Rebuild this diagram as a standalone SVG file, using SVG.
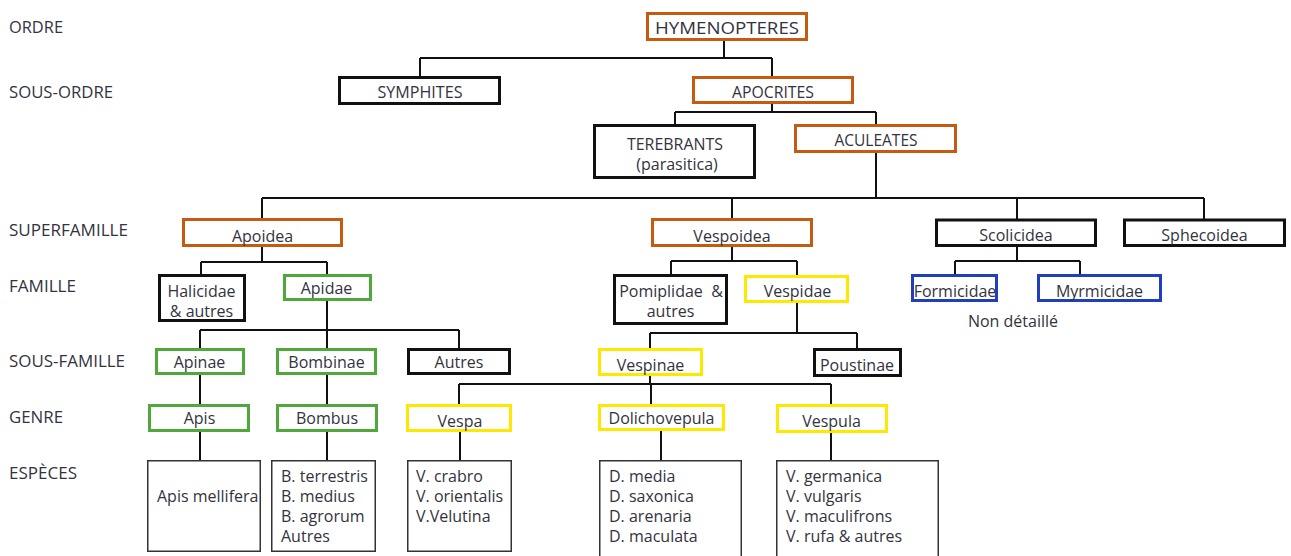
<svg xmlns="http://www.w3.org/2000/svg" width="1291" height="556" viewBox="0 0 1291 556">
<style>
text{font-family:"Open Sans","Liberation Sans",sans-serif;font-size:16px;fill:#333340}
.c{text-anchor:middle}
.box{fill:#fff;stroke-width:3}
.k{stroke:#111}
.o{stroke:#c55a11}
.g{stroke:#4ea83a}
.y{stroke:#ffe800}
.b{stroke:#1f3fbf}
.sp{fill:#fff;stroke:#333;stroke-width:1.5}
.conn{fill:none;stroke:#111;stroke-width:2}
</style>
<rect width="1291" height="556" fill="#fff"/>
<g id="level-labels">
<text x="9" y="33" textLength="54" lengthAdjust="spacingAndGlyphs">ORDRE</text>
<text x="9" y="98" textLength="104" lengthAdjust="spacingAndGlyphs">SOUS-ORDRE</text>
<text x="9" y="236" textLength="119" lengthAdjust="spacingAndGlyphs">SUPERFAMILLE</text>
<text x="9" y="292" textLength="67" lengthAdjust="spacingAndGlyphs">FAMILLE</text>
<text x="9" y="367" textLength="116" lengthAdjust="spacingAndGlyphs">SOUS-FAMILLE</text>
<text x="9" y="423" textLength="54" lengthAdjust="spacingAndGlyphs">GENRE</text>
<text x="9" y="479" textLength="68" lengthAdjust="spacingAndGlyphs">ESPÈCES</text>
</g>
<g id="connectors" class="conn">
<path d="M724 41V58M420 58H772M420 58V77M772 58V77"/>
<path d="M772 104V112M675 112H876M675 112V125M876 112V125"/>
<path d="M876 152V198M262 198H1204M262 198V219M732 198V219M1017 198V220M1204 198V220"/>
<path d="M262 247V262M201 262H327M201 262V275M327 262V275"/>
<path d="M327 301V330M200 330H459M200 330V349M327 330V349M459 330V349"/>
<path d="M200 375V405M200 432V460M327 375V405M327 432V460"/>
<path d="M732 247V261M671 261H797M671 261V275M797 261V276"/>
<path d="M797 303V333M650 333H857M650 333V349M857 333V349"/>
<path d="M650 376V384M459 384H831M459 384V405M651 384V405M831 384V405"/>
<path d="M460 432V460M661 430V460M831 433V460"/>
<path d="M1017 247V261M955 261H1080M955 261V275M1080 261V275"/>
</g>
<g id="hymenopteres"><rect class="box o" x="647.5" y="13.5" width="159" height="26"/><text class="c" x="727" y="34" textLength="144" lengthAdjust="spacingAndGlyphs">HYMENOPTERES</text></g>
<g id="symphites"><rect class="box k" x="339.5" y="77.5" width="160" height="26"/><text class="c" x="420" y="98" textLength="85" lengthAdjust="spacingAndGlyphs">SYMPHITES</text></g>
<g id="apocrites"><rect class="box o" x="693.5" y="77.5" width="159" height="25"/><text class="c" x="773" y="98" textLength="82" lengthAdjust="spacingAndGlyphs">APOCRITES</text></g>
<g id="terebrants"><rect class="box k" x="594.5" y="125.5" width="160" height="52"/><text class="c" x="675" y="150" textLength="96" lengthAdjust="spacingAndGlyphs">TEREBRANTS</text><text class="c" x="677" y="170">(parasitica)</text></g>
<g id="aculeates"><rect class="box o" x="795.5" y="125.5" width="160" height="26"/><text class="c" x="876" y="146" textLength="83" lengthAdjust="spacingAndGlyphs">ACULEATES</text></g>
<g id="apoidea"><rect class="box o" x="183.5" y="219.5" width="158" height="26"/><text class="c" x="262.5" y="242">Apoidea</text></g>
<g id="vespoidea"><rect class="box o" x="652.5" y="219.5" width="159" height="26"/><text class="c" x="732" y="242">Vespoidea</text></g>
<g id="scolicidea"><rect class="box k" x="936.5" y="220" width="159" height="25.5"/><text class="c" x="1016" y="241">Scolicidea</text></g>
<g id="sphecoidea"><rect class="box k" x="1124.5" y="220" width="160" height="25.5"/><text class="c" x="1204.5" y="241">Sphecoidea</text></g>
<g id="halicidae"><rect class="box k" x="159.5" y="275.5" width="85" height="45"/><text class="c" x="201.5" y="297">Halicidae</text><text class="c" x="201.5" y="317">&amp; autres</text></g>
<g id="apidae"><rect class="box g" x="284.5" y="275.5" width="86" height="24"/><text class="c" x="326.5" y="294">Apidae</text></g>
<g id="pomiplidae"><rect class="box k" x="614.5" y="275.5" width="112" height="48"/><text class="c" x="671" y="297" xml:space="preserve">Pomiplidae  &amp;</text><text class="c" x="670.5" y="317">autres</text></g>
<g id="vespidae"><rect class="box y" x="745.5" y="276.5" width="102" height="25"/><text class="c" x="797.5" y="297">Vespidae</text></g>
<g id="formicidae"><rect class="box b" x="912.5" y="275.5" width="84" height="25"/><text class="c" x="955" y="297">Formicidae</text></g>
<g id="myrmicidae"><rect class="box b" x="1038.5" y="275.5" width="122" height="25"/><text class="c" x="1099.5" y="297">Myrmicidae</text></g>
<g id="non-detaille"><text class="c" x="1013" y="327">Non détaillé</text></g>
<g id="apinae"><rect class="box g" x="156.5" y="349.5" width="87" height="24"/><text class="c" x="199.5" y="368">Apinae</text></g>
<g id="bombinae"><rect class="box g" x="277.5" y="349.5" width="98" height="24"/><text class="c" x="326.5" y="368">Bombinae</text></g>
<g id="autres"><rect class="box k" x="408.5" y="349.5" width="101" height="24"/><text class="c" x="459" y="368">Autres</text></g>
<g id="vespinae"><rect class="box y" x="599.5" y="349.5" width="102" height="25"/><text class="c" x="650.5" y="371">Vespinae</text></g>
<g id="poustinae"><rect class="box k" x="814.5" y="349.5" width="86" height="26"/><text class="c" x="857" y="371">Poustinae</text></g>
<g id="apis"><rect class="box g" x="149.5" y="405.5" width="99" height="25"/><text class="c" x="199.5" y="424">Apis</text></g>
<g id="bombus"><rect class="box g" x="277.5" y="405.5" width="99" height="25"/><text class="c" x="327" y="424">Bombus</text></g>
<g id="vespa"><rect class="box y" x="407.5" y="405.5" width="103" height="25"/><text class="c" x="460" y="427">Vespa</text></g>
<g id="dolichovepula"><rect class="box y" x="599.5" y="405.5" width="124" height="24"/><text class="c" x="661.5" y="424">Dolichovepula</text></g>
<g id="vespula"><rect class="box y" x="777.5" y="405.5" width="109" height="26"/><text class="c" x="831.5" y="427">Vespula</text></g>
<g id="sp-apis"><rect class="sp" x="147.75" y="460.75" width="112.5" height="90.5"/><text x="157" y="502">Apis mellifera</text></g>
<g id="sp-bombus"><rect class="sp" x="271.75" y="460.75" width="103.5" height="90.5"/><text x="281" y="482">B. terrestris</text><text x="281" y="502">B. medius</text><text x="281" y="522">B. agrorum</text><text x="281" y="542">Autres</text></g>
<g id="sp-vespa"><rect class="sp" x="407.75" y="460.75" width="103.5" height="90.5"/><text x="416" y="482">V. crabro</text><text x="416" y="502">V. orientalis</text><text x="416" y="522">V.Velutina</text></g>
<g id="sp-dolichovepula"><rect class="sp" x="599.75" y="460.75" width="141.5" height="100"/><text x="609" y="482">D. media</text><text x="609" y="502">D. saxonica</text><text x="609" y="522">D. arenaria</text><text x="609" y="542">D. maculata</text></g>
<g id="sp-vespula"><rect class="sp" x="776.75" y="460.75" width="161.5" height="100"/><text x="786" y="482">V. germanica</text><text x="786" y="502">V. vulgaris</text><text x="786" y="522">V. maculifrons</text><text x="786" y="542">V. rufa &amp; autres</text></g>
</svg>
